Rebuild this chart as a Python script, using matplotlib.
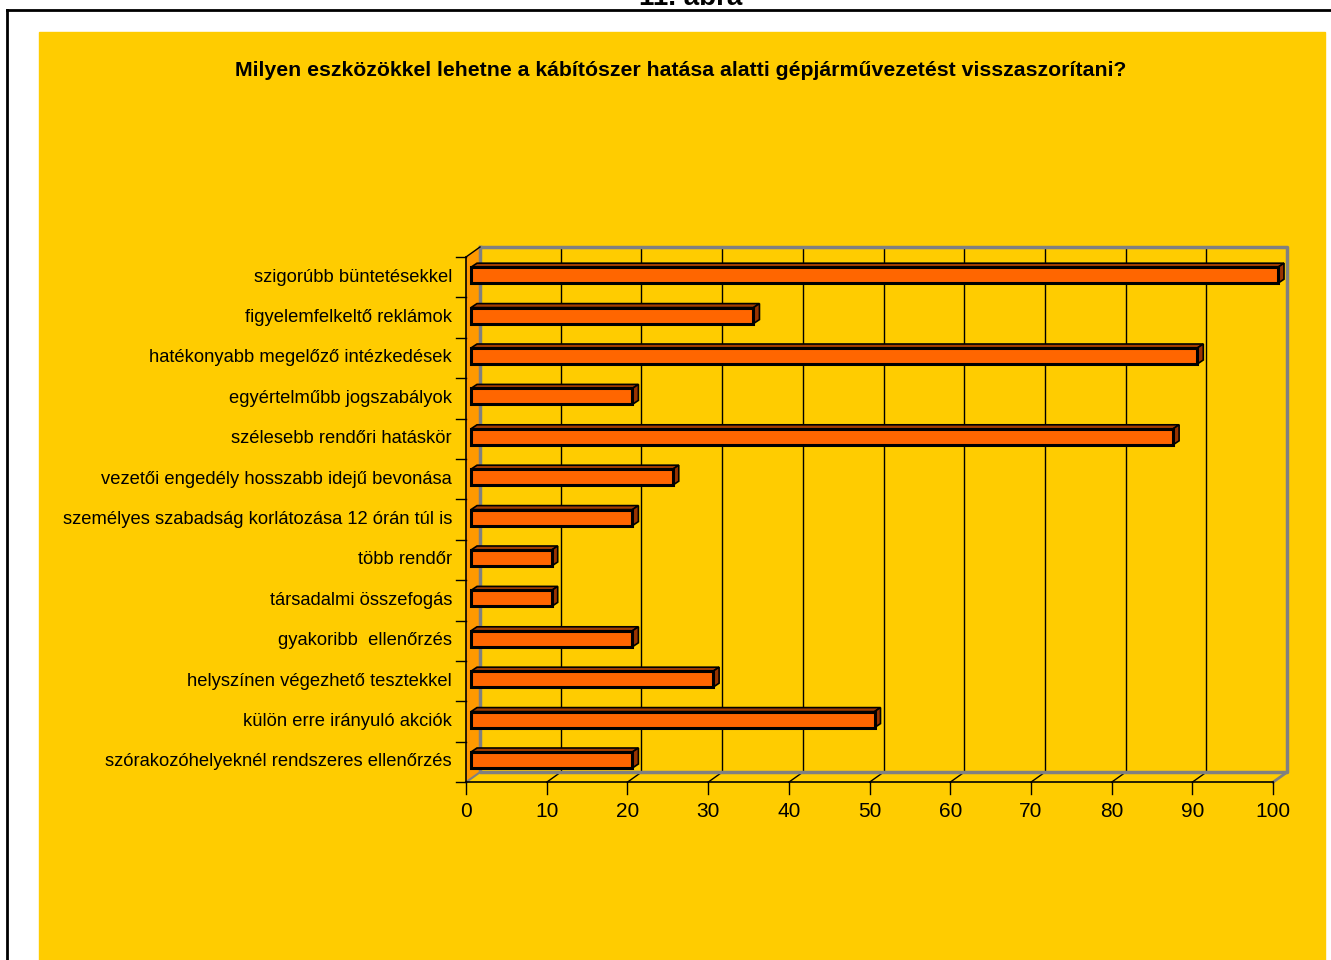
import matplotlib.pyplot as plt
from matplotlib.patches import Rectangle, Polygon

plt.rcParams['font.family'] = ['Liberation Sans', 'DejaVu Sans']

categories = [
    "szigorúbb büntetésekkel",
    "figyelemfelkeltő reklámok",
    "hatékonyabb megelőző intézkedések",
    "egyértelműbb jogszabályok",
    "szélesebb rendőri hatáskör",
    "vezetői engedély hosszabb idejű bevonása",
    "személyes szabadság korlátozása 12 órán túl is",
    "több rendőr",
    "társadalmi összefogás",
    "gyakoribb  ellenőrzés",
    "helyszínen végezhető tesztekkel",
    "külön erre irányuló akciók",
    "szórakozóhelyeknél rendszeres ellenőrzés",
]
values = [100, 35, 90, 20, 87, 25, 20, 10, 10, 20, 30, 50, 20]
xticks = list(range(0, 101, 10))
title = "Milyen eszközökkel lehetne a kábítószer hatása alatti gépjárművezetést visszaszorítani?"
fig_label = "11. ábra"

W, H = 1331, 960
fig = plt.figure(figsize=(W / 100, H / 100), dpi=100)
fig.patch.set_facecolor('white')


def fx(px):
    return px / W


def fy(py):
    return 1 - py / H


# page frame + yellow chart area
fig.add_artist(plt.Line2D([fx(7), fx(7)], [fy(10), 0], color='black', lw=2, zorder=-5))
fig.add_artist(plt.Line2D([fx(7), 1], [fy(10), fy(10)], color='black', lw=2, zorder=-5))
fig.add_artist(Rectangle((fx(39), 0), fx(1325) - fx(39), fy(32), color='#FFCC00', zorder=-4))
# caption sits partly above the page, as in the original
fig.text(fx(691), fy(5), fig_label, ha='center', va='baseline', fontsize=20,
         fontweight='bold')
fig.text(fx(681), fy(70), title, ha='center', va='center', fontsize=15.3, fontweight='bold')

# axes mapped so that data units match the picture's pixel scale
SX, SY = 8.07, 40.4          # px per value unit, px per row
X0, Y0 = 466, 257            # pixel of value 0 / top of front plane
ax = fig.add_axes([0, 0, 1, 1])
ax.set_xlim(-X0 / SX, (W - X0) / SX)
ax.set_ylim((H - Y0) / SY - 0.5, -Y0 / SY - 0.5)
ax.axis('off')
ax.patch.set_alpha(0)

n = len(categories)
DX, DY = 14 / SX, -10 / SY
top, bot = -0.5, n - 0.5
gray = '#808080'

# left wall
ax.add_patch(Polygon([(0, top), (DX, top + DY), (DX, bot + DY), (0, bot)],
                     closed=True, facecolor='#FF9900', edgecolor='none', zorder=1))
# back wall grid
for t in xticks[1:-1]:
    ax.plot([t + DX, t + DX], [top + DY, bot + DY], color='black', lw=1, zorder=2)
    ax.plot([t, t + DX], [bot, bot + DY], color='black', lw=1, zorder=2)
ax.plot([DX, 100 + DX, 100 + DX, DX, DX],
        [top + DY, top + DY, bot + DY, bot + DY, top + DY], color=gray, lw=2.5, zorder=2)
ax.plot([100, 100 + DX], [bot, bot + DY], color=gray, lw=2, zorder=2)
ax.plot([0, DX], [top, top + DY], color='black', lw=1, zorder=3)
ax.plot([0, DX], [bot, bot + DY], color=gray, lw=1.5, zorder=3)

# front axes
ax.plot([0, 0], [top, bot], color='black', lw=1.2, zorder=3)
ax.plot([0, 100], [bot, bot], color='black', lw=1.2, zorder=3)
for k in range(n + 1):
    ax.plot([-10 / SX, 0], [k - 0.5, k - 0.5], color='black', lw=1, zorder=3)
for t in xticks:
    ax.plot([t, t], [bot, bot + 12 / SY], color='black', lw=1, zorder=3)
    ax.text(t, bot + 29 / SY, str(t), ha='center', va='center', fontsize=15)
for i, c in enumerate(categories):
    ax.text(-14 / SX, i, c, ha='right', va='center', fontsize=13.2)

# 3D bars
BX0, BY0 = 5 / SX, -2 / SY
h = 16 / SY
BDX, BDY = 6 / SX, -4 / SY
for i, v in enumerate(values):
    y1 = i + BY0 - h / 2
    y2 = i + BY0 + h / 2
    x1, x2 = BX0, v + BX0
    ax.add_patch(Polygon([(x1, y1), (x1 + BDX, y1 + BDY), (x2 + BDX, y1 + BDY), (x2, y1)],
                         closed=True, facecolor='#A33D00', edgecolor='black', lw=1.2, zorder=4))
    ax.add_patch(Polygon([(x2, y1), (x2 + BDX, y1 + BDY), (x2 + BDX, y2 + BDY), (x2, y2)],
                         closed=True, facecolor='#993300', edgecolor='black', lw=1.2, zorder=4))
    ax.add_patch(Rectangle((x1, y1), v, h, facecolor='#FF6600', edgecolor='black',
                           lw=2.2, zorder=5))

fig.savefig('out.png', dpi=100)
